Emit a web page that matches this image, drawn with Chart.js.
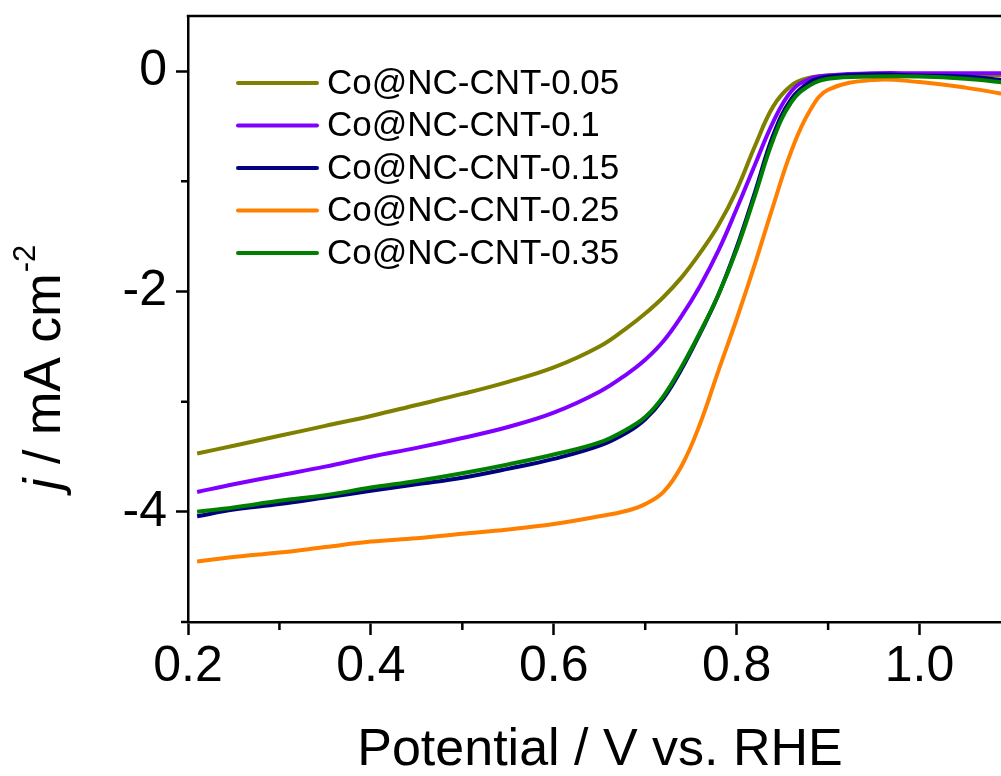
<!DOCTYPE html>
<html>
<head>
<meta charset="utf-8">
<script src="https://cdn.jsdelivr.net/npm/chart.js@4.4.1/dist/chart.umd.min.js"></script>
<style>
    html, body { margin: 0; padding: 0; background: #fff; overflow: hidden; }
    #wrap { width: 1014px; height: 776px; position: relative; }
</style>
</head>
<body>
<div id="wrap"><canvas id="lsv-chart"></canvas></div>
<script>
    "use strict";

    // Data
    var potential = [0.21, 0.25, 0.30, 0.35, 0.40, 0.45, 0.50, 0.55, 0.60, 0.65, 0.68, 0.70, 0.72,
                     0.74, 0.76, 0.78, 0.80, 0.82, 0.84, 0.86, 0.88, 0.90, 0.95, 1.00, 1.05, 1.10];

    var cnt005 = [-3.47, -3.40, -3.31, -3.22, -3.13, -3.03, -2.93, -2.82, -2.69, -2.50, -2.33, -2.20, -2.05,
                  -1.87, -1.65, -1.40, -1.08, -0.68, -0.32, -0.13, -0.06, -0.04, -0.03, -0.03, -0.03, -0.04];
    var cnt01  = [-3.82, -3.75, -3.67, -3.59, -3.50, -3.42, -3.33, -3.23, -3.10, -2.91, -2.75, -2.62, -2.45,
                  -2.22, -1.95, -1.63, -1.25, -0.85, -0.46, -0.18, -0.07, -0.04, -0.02, -0.02, -0.02, -0.02];
    var cnt015 = [-4.04, -3.98, -3.93, -3.87, -3.81, -3.75, -3.69, -3.61, -3.52, -3.40, -3.28, -3.16, -2.97,
                  -2.70, -2.38, -2.03, -1.60, -1.10, -0.58, -0.25, -0.10, -0.05, -0.03, -0.04, -0.05, -0.09];
    var cnt025 = [-4.45, -4.41, -4.37, -4.32, -4.27, -4.24, -4.20, -4.16, -4.11, -4.04, -3.99, -3.93, -3.82,
                  -3.58, -3.20, -2.72, -2.25, -1.75, -1.22, -0.72, -0.36, -0.17, -0.08, -0.10, -0.15, -0.22];
    var cnt035 = [-4.00, -3.96, -3.90, -3.85, -3.78, -3.72, -3.65, -3.57, -3.48, -3.37, -3.25, -3.14, -2.95,
                  -2.68, -2.37, -2.03, -1.62, -1.13, -0.62, -0.28, -0.13, -0.07, -0.05, -0.05, -0.07, -0.11];

    var seriesNames = ["Co@NC-CNT-0.05", "Co@NC-CNT-0.1", "Co@NC-CNT-0.15", "Co@NC-CNT-0.25", "Co@NC-CNT-0.35"];
    var seriesColors = ["#808000", "#8000ff", "#000080", "#ff8000", "#008000"];
    var seriesValues = [cnt005, cnt01, cnt015, cnt025, cnt035];

    var xTicks = [0.2, 0.4, 0.6, 0.8, 1.0];
    var xMinor = [0.3, 0.5, 0.7, 0.9, 1.1];
    var yTicks = [-4, -2, 0];
    var yMinor = [-5, -3, -1];

    var FONT = "'Liberation Sans', Arial, sans-serif";
    Chart.defaults.font.family = FONT;
    Chart.defaults.color = "#000";

    function toPoints(values) {
        return values.map(function (v, i) { return {x: potential[i], y: v}; });
    }

    var datasets = seriesNames.map(function (name, i) {
        return {
            label: name,
            data: toPoints(seriesValues[i]),
            borderColor: seriesColors[i],
            backgroundColor: seriesColors[i],
            borderWidth: 4,
            pointRadius: 0,
            fill: false,
            tension: 0.4,
            order: seriesNames.length - i   // later curves drawn on top
        };
    });

    function noPad(s) {
        s.paddingTop = 0;
        s.paddingBottom = 0;
        s.paddingLeft = 0;
        s.paddingRight = 0;
    }

    // Minor ticks, top frame, legend and axis titles
    var decor = {
        id: "decor",
        afterDraw: function (chart) {
            var ctx = chart.ctx;
            var area = chart.chartArea;
            var xs = chart.scales.x, ys = chart.scales.y;
            ctx.save();
            ctx.strokeStyle = "#000";
            ctx.lineWidth = 2.5;

            // top frame
            ctx.beginPath();
            ctx.moveTo(area.left - 1.25, area.top);
            ctx.lineTo(area.right, area.top);
            ctx.stroke();

            // minor ticks
            ctx.beginPath();
            xMinor.forEach(function (v) {
                var px = xs.getPixelForValue(v);
                ctx.moveTo(px, area.bottom);
                ctx.lineTo(px, area.bottom + 8);
            });
            yMinor.forEach(function (v) {
                var py = ys.getPixelForValue(v);
                ctx.moveTo(area.left, py);
                ctx.lineTo(area.left - 7, py);
            });
            ctx.stroke();

            // legend
            ctx.lineCap = "round";
            ctx.lineWidth = 4;
            ctx.textBaseline = "middle";
            ctx.textAlign = "left";
            ctx.font = "35px " + FONT;
            seriesNames.forEach(function (name, i) {
                var y = 83 + i * 42.5;
                ctx.strokeStyle = seriesColors[i];
                ctx.beginPath();
                ctx.moveTo(238, y);
                ctx.lineTo(317, y);
                ctx.stroke();
                ctx.fillStyle = "#000";
                ctx.fillText(name, 327, y + 1);
            });

            // x title
            ctx.textBaseline = "alphabetic";
            ctx.textAlign = "center";
            ctx.font = "52px " + FONT;
            ctx.fillText("Potential / V vs. RHE", 600, 765);

            // y title: j / mA cm-2
            ctx.translate(60, 490);
            ctx.rotate(-Math.PI / 2);
            ctx.textAlign = "left";
            var x = 0;
            ctx.font = "italic 52px " + FONT;
            ctx.fillText("j", x, 0);
            x += ctx.measureText("j").width;
            ctx.font = "52px " + FONT;
            ctx.fillText(" / mA cm", x, 0);
            x += ctx.measureText(" / mA cm").width;
            ctx.font = "31px " + FONT;
            ctx.fillText("-2", x + 1, -25);
            ctx.restore();
        }
    };

    var ctx1 = document.getElementById("lsv-chart").getContext("2d");
    var myChart1 = new Chart(ctx1, {
        type: "line",
        data: { datasets: datasets },
        options: {
            responsive: true,
            maintainAspectRatio: false,
            animation: false,
            layout: { padding: { top: 16, right: 3, left: 0, bottom: 0 } },
            plugins: {
                legend: { display: false },
                tooltip: { enabled: false }
            },
            scales: {
                x: {
                    type: "linear",
                    min: 0.2,
                    max: 1.1,
                    afterFit: function (s) { s.height = 154; noPad(s); },
                    afterBuildTicks: function (s) {
                        s.ticks = xTicks.map(function (v) { return {value: v}; });
                    },
                    ticks: {
                        font: { size: 50 },
                        color: "#000",
                        padding: 2,
                        maxRotation: 0,
                        callback: function (v) { return Number(v).toFixed(1); }
                    },
                    grid: { drawOnChartArea: false, tickLength: 13, tickWidth: 2.5, tickColor: "#000" },
                    border: { color: "#000", width: 2.5 }
                },
                y: {
                    min: -5,
                    max: 0.5,
                    afterFit: function (s) { s.width = 188; noPad(s); },
                    afterBuildTicks: function (s) {
                        s.ticks = yTicks.map(function (v) { return {value: v}; });
                    },
                    ticks: {
                        font: { size: 50 },
                        color: "#000",
                        padding: 9,
                        callback: function (v) { return String(v); }
                    },
                    grid: { drawOnChartArea: false, tickLength: 12, tickWidth: 2.5, tickColor: "#000" },
                    border: { color: "#000", width: 2.5 }
                }
            }
        },
        plugins: [decor]
    });
</script>
</body>
</html>
